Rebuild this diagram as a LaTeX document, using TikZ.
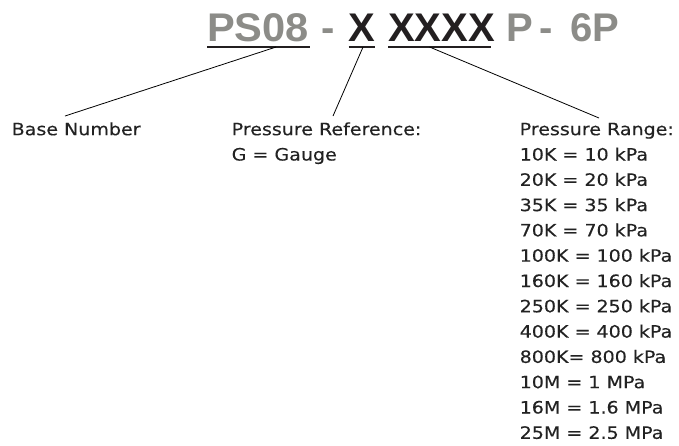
\documentclass[tikz,border=0pt]{standalone}
\usepackage{fontspec}
\newfontfamily\titlefont{Liberation Sans}
\newfontfamily\titlewide[FakeStretch=1.04]{Liberation Sans}
\newfontfamily\bodyfont[FakeStretch=1.12,FakeBold=0.3]{DejaVu Sans}
\definecolor{tgray}{HTML}{8C8C88}
\definecolor{tblack}{HTML}{231F20}
\definecolor{txt}{HTML}{222222}
\tikzset{
  ttl/.style={inner sep=0pt, anchor=base west, font=\titlefont\bfseries\fontsize{40}{44}\selectfont},
  ttlg/.style={ttl, text=tgray},
  ttlb/.style={ttl, text=tblack},
  lbl/.style={inner sep=0pt, anchor=north west, align=left, text=txt,
              font=\bodyfont\fontsize{17}{25.3}\selectfont},
  conn/.style={draw=black, line width=0.8pt},
  uline/.style={draw=tblack, line width=1.3pt}
}
\begin{document}
\begin{tikzpicture}[x=1pt,y=-1pt]
\useasboundingbox (0,0) rectangle (679,445);
% title parts
\node[ttlg, font=\titlewide\bfseries\fontsize{40}{44}\selectfont] (ps) at (207,41) {PS08};
\node[ttlg] (d1)   at (321,41) {-};
\node[ttlb] (x1)   at (348.5,41) {X};
\node[ttlb] (x4)   at (388,41) {XXXX};
\node[ttlg] (p1)   at (506,41) {P};
\node[ttlg] (d2)   at (539,41) {-};
\node[ttlg] (sixp) at (570,41) {6P};
% underlines
\draw[uline] ([xshift=0pt,yshift=-6pt]ps.base west) -- ([xshift=1pt,yshift=-6pt]ps.base east);
\draw[uline] ([yshift=-6pt]x1.base west) -- ([xshift=-1pt,yshift=-6pt]x1.base east);
\draw[uline] ([yshift=-6pt]x4.base west) -- ([xshift=-4pt,yshift=-6pt]x4.base east);
% labels
\node[lbl] (bn) at (11.5,122.1) {Base Number};
\node[lbl] (pref) at (231.5,122.1) {Pressure Reference:\\G = Gauge};
\node[lbl] (prange) at (519.5,122.6) {Pressure Range:\\10K = 10 kPa\\20K = 20 kPa\\35K = 35 kPa\\70K = 70 kPa\\100K = 100 kPa\\160K = 160 kPa\\250K = 250 kPa\\400K = 400 kPa\\800K= 800 kPa\\10M = 1 MPa\\16M = 1.6 MPa\\25M = 2.5 MPa};
% connector ends
\coordinate (bnend) at (65,116);
\coordinate (prefend) at (333,116);
\coordinate (prangeend) at (599,118);
% connectors
\draw[conn] ([xshift=18pt,yshift=-6pt]ps.base) -- (bnend);
\draw[conn] ([xshift=1pt,yshift=-6pt]x1.base) -- (prefend);
\draw[conn] ([xshift=-12pt,yshift=-6pt]x4.base) -- (prangeend);
\end{tikzpicture}
\end{document}
